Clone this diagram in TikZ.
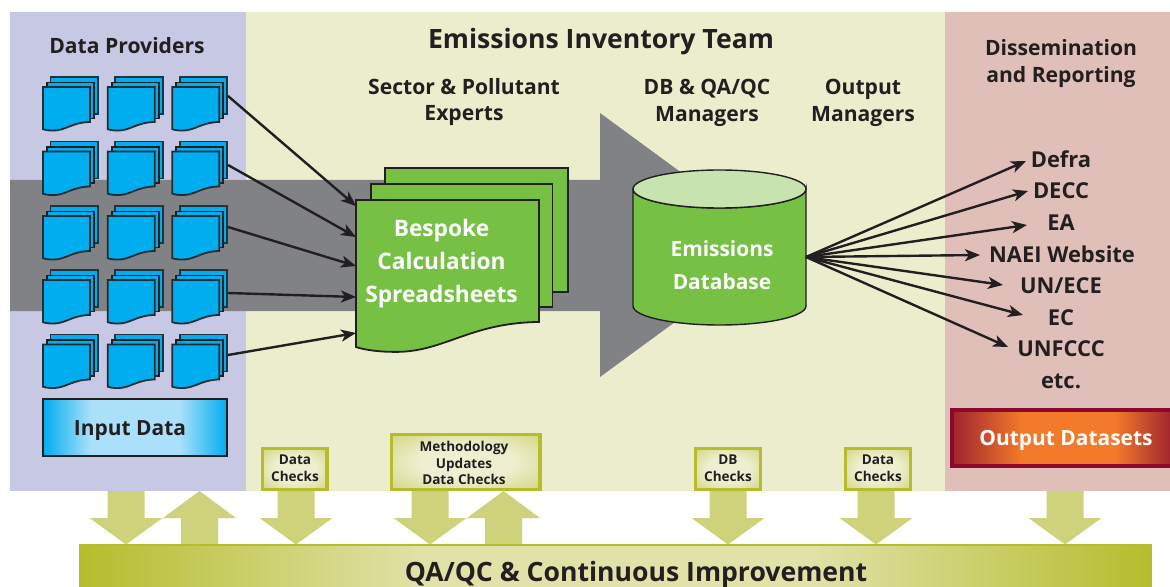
\documentclass[tikz,border=0pt]{standalone}
\usepackage{fontspec}
\setmainfont{Open Sans}
\usetikzlibrary{arrows.meta}
\definecolor{txt}{HTML}{231F20}
\definecolor{panelA}{HTML}{C7C8E4}
\definecolor{panelB}{HTML}{ECEDCD}
\definecolor{panelC}{HTML}{E1BFB9}
\definecolor{flow}{HTML}{808285}
\definecolor{docblue}{HTML}{00AEEF}
\definecolor{docgreen}{HTML}{76C043}
\definecolor{dbtop}{HTML}{C6E3B0}
\definecolor{olive}{HTML}{B5BD2D}
\definecolor{oliveL}{HTML}{E0E2A8}
\definecolor{chkL}{HTML}{EEEFD0}
\definecolor{blockc}{HTML}{CDD27B}
\definecolor{cyanL}{HTML}{ABE0FA}
\definecolor{orangeC}{HTML}{F47A2A}
\definecolor{wine}{HTML}{8B0A2B}
\definecolor{wineE}{HTML}{9E242E}
\pgfdeclarehorizontalshading{inputshade}{100bp}{color(0bp)=(docblue); color(25bp)=(docblue); color(38bp)=(cyanL); color(62bp)=(cyanL); color(75bp)=(docblue); color(100bp)=(docblue)}
\pgfdeclarehorizontalshading{outputshade}{100bp}{color(0bp)=(wineE); color(25bp)=(wineE); color(41bp)=(orangeC); color(62bp)=(orangeC); color(75bp)=(wineE); color(100bp)=(wineE)}
\pgfdeclarehorizontalshading{barshade}{100bp}{color(0bp)=(olive); color(25bp)=(olive); color(41bp)=(oliveL); color(59bp)=(oliveL); color(75bp)=(olive); color(100bp)=(olive)}
\pgfdeclareradialshading{chkshade}{\pgfpoint{0bp}{0bp}}{color(0bp)=(chkL); color(16bp)=(chkL); color(50bp)=(olive!85!chkL)}
\tikzset{
  head/.style={font=\fontsize{21.2}{24}\selectfont\bfseries,text=txt,align=center,inner sep=0pt},
  target/.style={font=\fontsize{22}{24}\selectfont\bfseries,text=txt,align=center,inner sep=0pt},
  title/.style={font=\fontsize{26.7}{30}\selectfont\bfseries,text=txt,align=center,inner sep=0pt},
  white text/.style={font=\fontsize{22.8}{33.5}\selectfont\bfseries,text=white,align=center,inner sep=0pt},
  db text/.style={font=\fontsize{21}{33.5}\selectfont\bfseries,text=white,align=center,inner sep=0pt},
  check text/.style={font=\fontsize{13.6}{16.8}\selectfont\bfseries,text=txt,align=center,inner sep=0pt},
  conn/.style={draw=txt,line width=2.4bp,-{Stealth[length=15bp,width=12bp,inset=4bp]},shorten >=0pt},
  checkbox/.style={draw=olive,line width=3.5bp,shading=chkshade},
  blockarrow/.style={fill=blockc,draw=none}
}
\newcommand{\wavesheet}[6]{%
  \begin{scope}[shift={(#1,#2)},xscale=#3,yscale=#4]
    \path[draw=#6,fill=#5,line width=1.8bp,line join=miter]
      (0,0) -- (1,0) -- (1,1) .. controls (.62,1.005) and (.48,1.25) .. (.21,1.245)
      .. controls (.13,1.245) and (.05,1.23) .. (0,1.205) -- cycle;
  \end{scope}}
\newcommand{\plainsheet}[6]{%
  \path[draw=#6,fill=#5,line width=1.8bp] (#1,#2) rectangle ++(#3,#4);}
\newcommand{\smalldoc}[2]{%
  \begin{scope}[shift={(#1,#2)}]
    \plainsheet{50.5}{77}{47.5}{37}{docblue}{txt!85!docblue}
    \plainsheet{47}{82.5}{47}{36}{docblue}{txt}
    \wavesheet{43}{87}{47}{35}{docblue}{txt!90!docblue}
  \end{scope}}
\newcommand{\blockdown}[1]{\fill[blockarrow] (#1-18.5,491) -- (#1+18.5,491) -- (#1+18.5,518) -- (#1+36.5,518) -- (#1,544.5) -- (#1-36.5,518) -- (#1-18.5,518) -- cycle;}
\newcommand{\blockup}[1]{\fill[blockarrow] (#1-18.5,545) -- (#1+18.5,545) -- (#1+18.5,518) -- (#1+36.5,518) -- (#1,491) -- (#1-36.5,518) -- (#1-18.5,518) -- cycle;}
\begin{document}
\begin{tikzpicture}[x=1bp,y=-1bp]
\useasboundingbox (0,0) rectangle (1170,587);
\clip (0,0) rectangle (1170,587);
\fill[white] (0,0) rectangle (1170,587);
% panels
\fill[panelA] (10,12) rectangle (246,491);
\fill[panelB] (246,12) rectangle (945,491);
\fill[panelC] (945,12) rectangle (1170,491);
% big flow arrow
\fill[flow] (10,180) -- (600,180) -- (600,113) -- (780,245) -- (600,377) -- (600,311) -- (10,311) -- cycle;
% small documents
\foreach \r/\dy in {0/0,1/64.5,2/129,3/193,4/257.5}{
  \foreach \c/\dx in {0/0,1/64.7,2/129.3}{
    \smalldoc{\dx}{\dy}
  }
}
% large document
\plainsheet{385}{168}{183}{124}{docgreen}{txt}
\plainsheet{371}{184}{181.5}{123}{docgreen}{txt}
\wavesheet{356}{200}{183}{122}{docgreen}{txt}
\node[white text] (sheets) at (441.5,263.5) {Bespoke\\Calculation\\Spreadsheets};
% database
\path[draw=txt,fill=docgreen,line width=1.4bp] (633,189) -- (633,306)
  arc[start angle=180,end angle=0,x radius=86.5,y radius=19] -- (806,189)
  arc[start angle=0,end angle=180,x radius=86.5,y radius=19] -- cycle;
\path[draw=txt,fill=dbtop,line width=1.4bp] (719.5,189) ellipse[x radius=86.5,y radius=19];
\node[db text] (db) at (722,265) {Emissions\\Database};
% headings
\node[head] (providers) at (127,46) {Data Providers};
\node[title] (team) at (601,42) {Emissions Inventory Team};
\node[head] (experts) at (464,102) {Sector \& Pollutant\\[3pt]Experts};
\node[head] (managers) at (707,102.5) {DB \& QA/QC\\[3pt]Managers};
\node[head] (outmgr) at (863,102.5) {Output\\[3pt]Managers};
\node[head] (dissem) at (1061,63.5) {Dissemination\\[3pt]and Reporting};
% output labels
\node[target] (defra) at (1061,159.5) {Defra};
\node[target] (decc) at (1061,191) {DECC};
\node[target] (ea) at (1061,223) {EA};
\node[target] (naei) at (1062,254) {NAEI Website};
\node[target] (unece) at (1061,286) {UN/ECE};
\node[target] (ec) at (1061,318) {EC};
\node[target] (unfccc) at (1061,349) {UNFCCC};
\node[target] (etc) at (1061,381) {etc.};
% left connectors
\foreach \n/\ay/\by in {a/96/206,b/165/237,c/227/266,d/293/297,e/355/333}{
  \coordinate (from\n) at (228,\ay);
  \coordinate (to\n) at (356,\by);
  \draw[conn] (from\n) -- (to\n);
}
% right connectors
\coordinate (dbout) at (806,257);
\foreach \n/\tx/\ty in {defra/1026/161,decc/1028/191,ea/1027/225,naei/980/255,unece/1003/285,ec/1023/315,unfccc/1008/347}{
  \coordinate (tip\n) at (\tx,\ty);
  \draw[conn] (dbout) -- (tip\n);
}
% block arrows
\blockdown{126}
\blockup{199.5}
\blockdown{296}
\blockdown{430}
\blockup{503.5}
\blockdown{728}
\blockdown{876}
\blockdown{1065}
% boxes
\path[draw=txt,line width=1.4bp,shading=inputshade] (43,399) rectangle (227,456);
\node[font=\fontsize{21}{25}\selectfont\bfseries,text=txt,inner sep=0pt] (input) at (130,431) {Input Data};
\path[draw=wine,line width=3.5bp,shading=outputshade] (952,410) rectangle (1172,466);
\node[font=\fontsize{21}{26}\selectfont\bfseries,text=white,inner sep=0pt] (output) at (1066,440) {Output Datasets};
\path[checkbox] (262.5,448.5) rectangle (327,489.5);
\node[check text] (chk1) at (295,468) {Data\\Checks};
\path[checkbox] (391.5,434.5) rectangle (540,489.5);
\node[check text] (chk2) at (464,463) {Methodology\\Updates\\Data Checks};
\path[checkbox] (695.5,448.5) rectangle (760.5,489.5);
\node[check text] (chk3) at (728,468) {DB\\Checks};
\path[checkbox] (845.5,448.5) rectangle (910.5,489.5);
\node[check text] (chk4) at (878,468) {Data\\Checks};
% bottom bar
\path[shading=barshade] (80,545) rectangle (1151,600);
\draw[olive,line width=2bp] (80,600) -- (80,545) -- (1151,545) -- (1151,600);
\node[title] (qa) at (636,575) {QA/QC \& Continuous Improvement};
\end{tikzpicture}
\end{document}
